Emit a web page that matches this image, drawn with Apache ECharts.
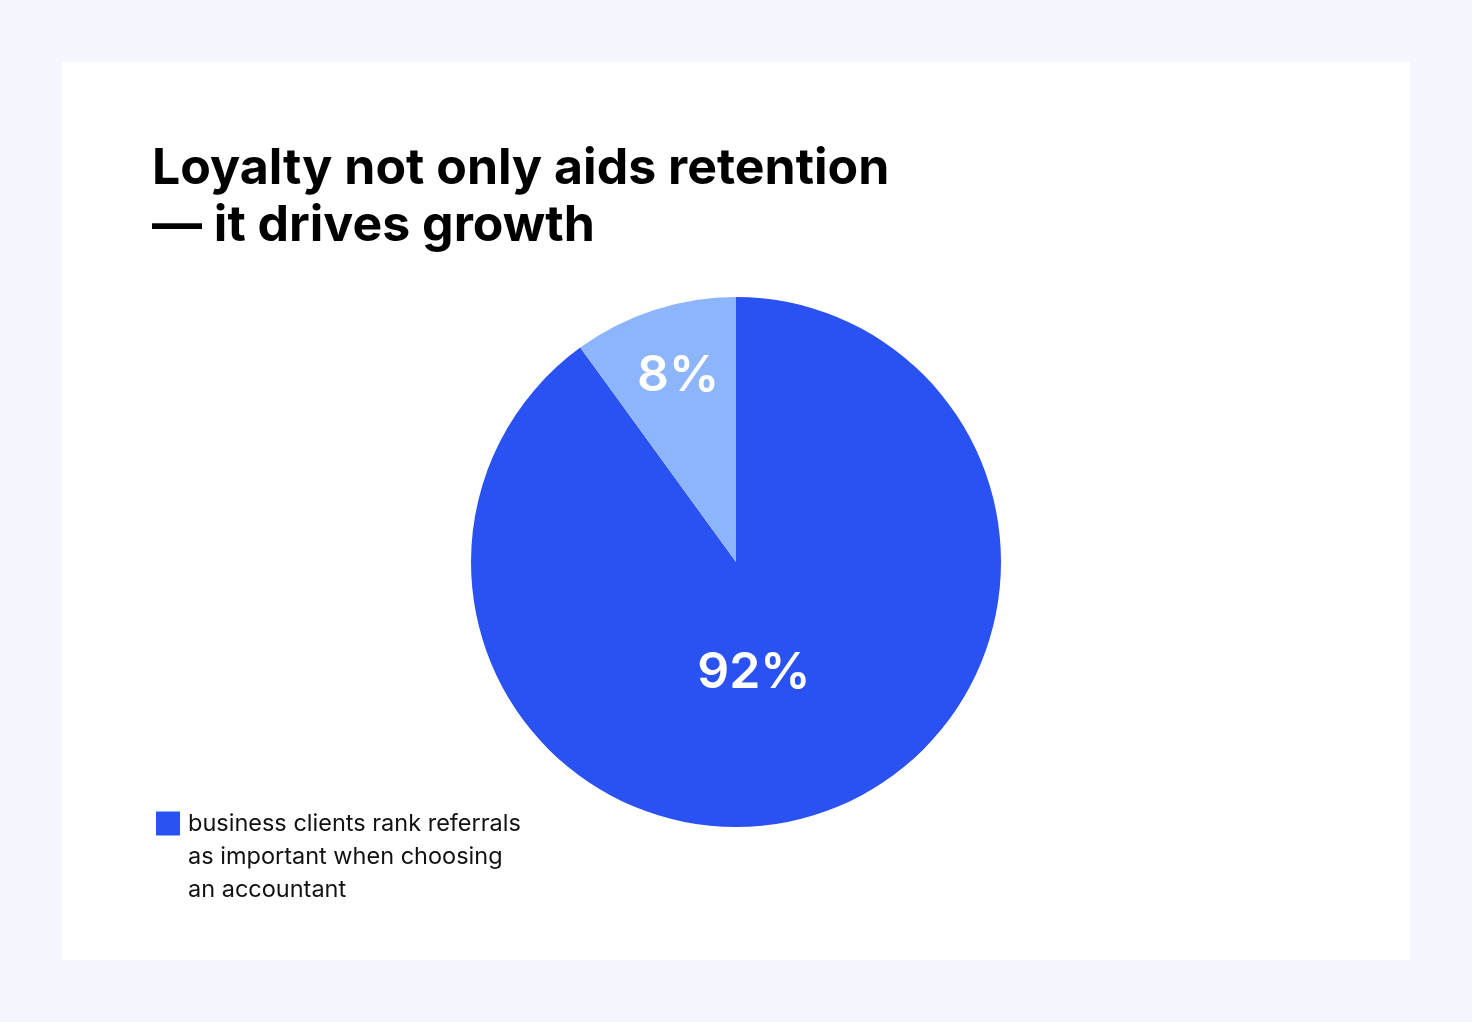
<!DOCTYPE html>
<html>
<head>
<meta charset="utf-8">
<script src="https://cdn.jsdelivr.net/npm/echarts@6/dist/echarts.min.js"></script>
<style>
  html, body { margin: 0; padding: 0; background: #f4f8fe; }
  #chart { width: 1472px; height: 1022px; }
</style>
</head>
<body>
<div id="chart"></div>
<script>
  const categories = ['business clients rank referrals\nas important when choosing\nan accountant', 'other'];
  // slice shares as drawn in the picture, and the printed percentages
  const values = [90, 10];
  const printedLabels = ['92%', '8%'];
  const sliceColors = ['#2a52f3', '#8db5fc'];
  // nudges so the labels sit where the original puts them
  const labelShift = [[-24, -18], [-16, -57]];

  const chart = echarts.init(document.getElementById('chart'));
  chart.setOption({
    backgroundColor: '#f4f8fe',
    graphic: [{
      type: 'rect',
      z: -10,
      shape: { x: 62, y: 62, width: 1348, height: 898 },
      style: { fill: '#ffffff' }
    }],
    title: {
      text: 'Loyalty not only aids retention\n— it drives growth',
      left: 147,
      top: 135,
      textStyle: {
        fontFamily: 'Inter',
        fontWeight: 700,
        fontSize: 50,
        lineHeight: 57,
        color: '#000000'
      }
    },
    legend: {
      data: [categories[0]],
      left: 156,
      top: 741,
      padding: 0,
      icon: 'rect',
      itemWidth: 24,
      itemHeight: 24,
      selectedMode: false,
      // leading blank lines keep the square beside the first text line
      formatter: function (name) { return '\n\n' + name; },
      textStyle: {
        fontFamily: 'Inter',
        fontSize: 23.5,
        lineHeight: 33,
        color: '#111111',
        padding: [0, 0, 0, 3]
      }
    },
    series: [{
      type: 'pie',
      center: [736, 562],
      radius: 265,
      startAngle: 90,
      clockwise: true,
      silent: true,
      itemStyle: { borderWidth: 0 },
      label: {
        show: true,
        position: 'inside',
        formatter: function (p) { return printedLabels[p.dataIndex]; },
        color: '#ffffff',
        fontFamily: 'Inter',
        fontWeight: 600,
        fontSize: 50
      },
      labelLine: { show: false },
      labelLayout: function (p) {
        const s = labelShift[p.dataIndex];
        return { dx: s[0], dy: s[1] };
      },
      data: values.map(function (v, i) {
        return { value: v, name: categories[i], itemStyle: { color: sliceColors[i] } };
      })
    }]
  });
</script>
</body>
</html>
